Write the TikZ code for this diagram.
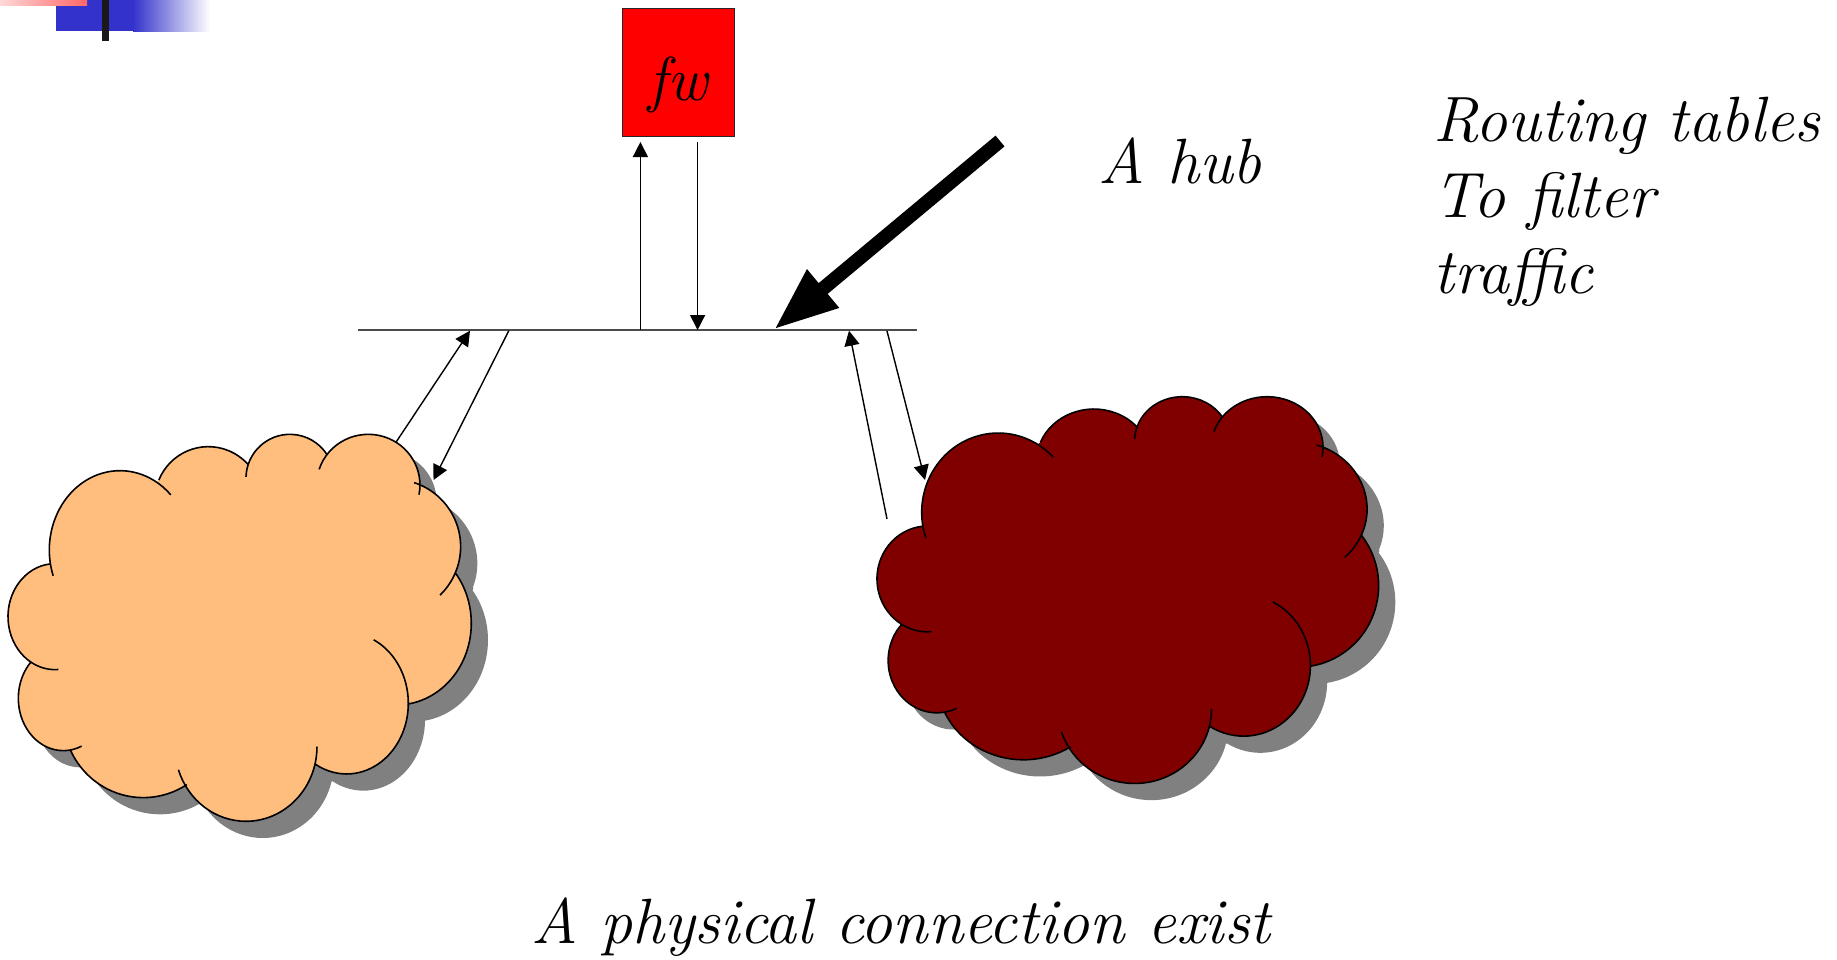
\documentclass[tikz,border=0pt]{standalone}
\usetikzlibrary{arrows.meta,positioning}
\definecolor{fwred}{RGB}{255,0,0}
\definecolor{lanorange}{RGB}{255,190,125}
\definecolor{lanmaroon}{RGB}{128,0,0}
\definecolor{cloudshadow}{RGB}{128,128,128}
\definecolor{logoblue}{RGB}{51,51,204}
\tikzstyle{arrow} = [line width=1.4pt,-{Triangle[length=15pt,width=15pt]}]
\tikzstyle{bigarrow} = [line width=14pt,-{Triangle[length=64pt,width=46pt]}]
\tikzstyle{lanline} = [line width=1.6pt]
\tikzstyle{callig} = [font=\itshape\fontsize{64}{64}\selectfont, inner sep=0pt]
% lobes of the cloud: centre x/y, radius x/y, first and last angle
\def\cloudlobes{
\foreach \cx/\cy/\rx/\ry/\afrom/\ato in {
360/450/212/238/161/316, 625/300/160/160/202/318, 870/235/132/132/182/328,
1105/255/155/152/198/371, 1180/440/202/202/288/406, 1190/670/224/245/322/441,
1040/910/185/212/296/480, 738/1040/213/224/0/162, 430/950/240/243/57/155,
190/895/135/157/66/223, 165/650/141/159/86/264}
{ ({\cx+\rx*cos(\afrom)},{\cy+\ry*sin(\afrom)}) arc[start angle=\afrom, end angle=\ato, x radius=\rx, y radius=\ry] }
}
\def\cloudcore{(150,492)--(477,240)--(745,192)--(982,165)--(1240,250)--(1370,515)--(1225,912)--(945,1095)--(560,1155)--(212,1052)--(92,788)--cycle}
% #1,#2 origin  #3,#4 scale  #5 colour
\newcommand{\lancloud}[5]{
\begin{scope}[shift={(#1+16.7,#2+16.7)},x=#3pt,y=-#4pt]
\fill[cloudshadow] \cloudcore \cloudlobes;
\end{scope}
\begin{scope}[shift={(#1,#2)},x=#3pt,y=-#4pt]
\fill[#5] \cloudcore \cloudlobes;
\draw[lanline] \cloudlobes;
\end{scope}
}
\begin{document}
\begin{tikzpicture}[x=1pt,y=-1pt]
\useasboundingbox (0,0) rectangle (1837,959);
% Corner logo
\fill[logoblue] (56,0) rectangle (134,31);
\shade[left color=logoblue, right color=white] (133,0) rectangle (210,31);
\shade[left color=red!15, right color=red!60] (0,0) rectangle (87,5);
\fill[black!90] (102,0) rectangle (108.7,40.5);

% Clouds
\lancloud{0}{400}{0.3333}{0.3333}{lanorange}
\lancloud{868.3}{362.4}{0.3609}{0.3331}{lanmaroon}

% Hub
\coordinate (busL) at (358,330);
\coordinate (busR) at (917,330);
\draw[line width=1.3pt, black!70] (busL) -- (busR);

% Firewall
\node[draw=black!85, fill=fwred, line width=1.4pt, minimum width=112pt, minimum height=128pt, inner sep=0pt, anchor=north west] (fw) at (622,7.5) {};
\node[inner sep=0pt, font=\fontsize{62}{62}\itshape\selectfont, anchor=base] (fwtext) at (678,100) {fw};
\coordinate (fwup) at (640.4,142);
\coordinate (fwdown) at (697.6,142);
\coordinate (busup) at (640.4,330);
\coordinate (busdown) at (697.6,330);
\draw[arrow] (busup) -- (fwup);
\draw[arrow] (fwdown) -- (busdown);

% Orange side
\coordinate (orangeout) at (395.7,442.7);
\coordinate (orangetip) at (470,330.7);
\coordinate (orangebus) at (508.8,330.7);
\coordinate (orangein) at (433.5,480);
\draw[arrow] (orangeout) -- (orangetip);
\draw[arrow] (orangebus) -- (orangein);

% Maroon side
\coordinate (maroonout) at (887,519);
\coordinate (maroontip) at (849,330.7);
\coordinate (maroonbus) at (887,331);
\coordinate (maroonin) at (925,480);
\draw[arrow] (maroonout) -- (maroontip);
\draw[arrow] (maroonbus) -- (maroonin);

% Labels
\node[callig, anchor=base west] (hub) at (1098,183) {A hub};
\coordinate (hubfrom) at (1000,141);
\coordinate (hubtip) at (774,329.5);
\draw[bigarrow] (hubfrom) -- (hubtip);
\node[callig, anchor=base west] (routing) at (1433,141) {Routing tables};
\node[callig, anchor=base west] (filter) at (1433,217) {To filter};
\node[callig, anchor=base west] (traffic) at (1433,293) {traffic};
\node[callig, anchor=base west] (physical) at (531,943) {A physical connection exist};
\end{tikzpicture}
\end{document}
